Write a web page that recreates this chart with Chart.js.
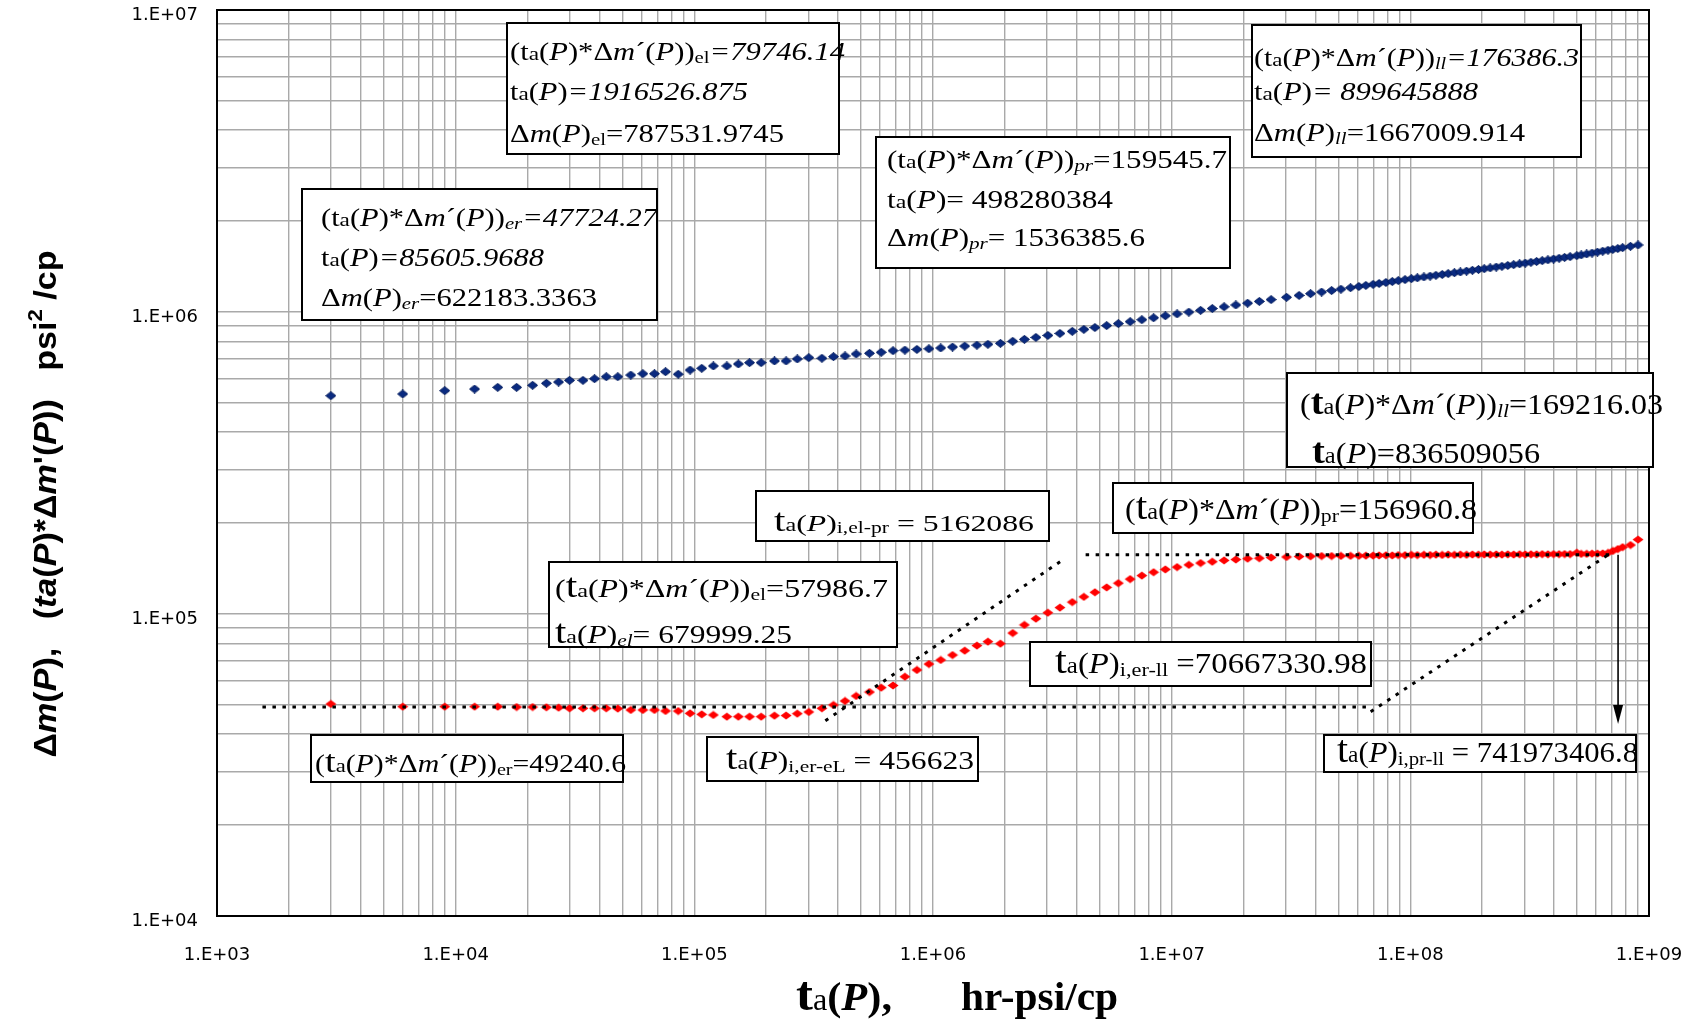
<!DOCTYPE html>
<html>
<head>
<meta charset="utf-8">
<script src="https://cdn.jsdelivr.net/npm/chart.js@4.4.1/dist/chart.umd.min.js"></script>
<style>
  html, body { margin: 0; padding: 0; background: #ffffff; }
  #wrap { width: 1694px; height: 1020px; position: relative; }
  canvas { display: block; }
</style>
</head>
<body>
<div id="wrap"><canvas id="c" width="1694" height="1020"></canvas></div>
<script>
// ---- values quoted in the annotation boxes ----
const ER_T = 85605.9688, ER_DM = 622183.3363, ER_D = 47724.27;
const EL_T = 1916526.875, EL_DM = 787531.9745, EL_D = 79746.14;
const PR_T = 498280384, PR_DM = 1536385.6, PR_D = 159545.7;
const LL_T = 899645888, LL_DM = 1667009.914, LL_D = 176386.3;
const LL2_T = 836509056, LL2_D = 169216.03;
const EL2_T = 679999.25, EL2_D = 57986.7;
const ER_LEVEL = 49240.6, PR_LEVEL = 156960.8;
const T_ER_EL = 456623, T_EL_PR = 5162086, T_ER_LL = 70667330.98, T_PR_LL = 741973406.8;

// ---- pseudo-time ta(P), hr-psi/cp ----
const taP = [
  3000, 6000, 9000, 12000, 15000, 18000, 21000, 24000, 27000, 30000,
  34140, 38190, 42750, 47790, 54150, 60850, 68060, 75730, ER_T, 96000,
  107400, 120100, 136800, 152900, 170300, 190500, 216700, 242400, 270000, 301700,
  342300, 382800, 428000, 476400, 541700, 606700, EL2_T, 762500, 856300, 961200,
  1077000, 1207000, 1358000, 1527000, 1698000, EL_T, 2158000, 2415000, 2698000, 3029000,
  3401000, 3833000, 4287000, 4768000, 5340000, 5980000, 6700000, 7500000, 8400000, 9410000,
  10540000, 11800000, 13220000, 14800000, 16580000, 18570000, 20800000, 23300000, 26100000, 30280000,
  34200000, 38180000, 42470000, 46770000, 51170000, 56150000, 60840000, 65110000, 69830000, 74000000,
  79000000, 84000000, 89000000, 95000000, 101000000, 107000000, 114000000, 121000000, 128000000, 136000000,
  144000000, 153000000, 162000000, 172000000, 182000000, 193000000, 204000000, 216000000, 229000000, 242000000,
  256000000, 271000000, 287000000, 303000000, 320000000, 338000000, 357000000, 377000000, 398000000, 420000000,
  443000000, 467000000, PR_T, 520000000, 548000000, 577000000, 608000000, 640000000, 673000000, 705000000,
  740000000, 775000000, LL2_T, LL_T
];

// ---- pseudo-pressure drop, Δm(P), psi²/cp ----
const deltaM = [
  528300, 535200, 548900, 555900, 563100, 563100, 571800, 580600, 586400, 593900,
  593900, 601300, 610500, 610500, 618400, 624700, 624700, 634300, ER_DM, 642600,
  651000, 662600, 662600, 672700, 679500, 679500, 688300, 688300, 698900, 705900,
  703000, 711400, 715000, 726100, 729800, 735400, 744500, 748100, 751800, 755400,
  760300, 765600, 771100, 776600, 781700, EL_DM, 800000, 812000, 824000, 836500,
  849400, 863000, 876000, 888300, 901600, 915200, 929000, 943000, 957000, 971600,
  985600, 999100, 1012700, 1026600, 1040800, 1055100, 1069600, 1084200, 1099000, 1118800,
  1135000, 1150000, 1164500, 1177900, 1190400, 1203400, 1214800, 1224600, 1234800, 1243100,
  1252800, 1261800, 1270500, 1280400, 1289600, 1297600, 1306400, 1314900, 1323000, 1331600,
  1339900, 1348900, 1357000, 1365800, 1374300, 1382900, 1391200, 1399800, 1408900, 1417100,
  1425900, 1434800, 1443700, 1452100, 1461000, 1470000, 1479100, 1488300, 1497600, 1506600,
  1515900, 1525000, PR_DM, 1545600, 1556700, 1567800, 1579100, 1590400, 1601400, 1611700,
  1622500, 1633000, 1650400, LL_DM
];

// ---- derivative, ta(P)*Δm'(P) ----
const derivative = [
  50350, 49330, 49330, 49330, 49330, 49200, 49200, 49100, 48960, 48740,
  48740, 48740, 48740, 48620, 48100, 48100, 48100, 47740, ER_D, 46880,
  46540, 46300, 45710, 45710, 45710, 45710, 46060, 46100, 46770, 47370,
  48720, 49970, 51520, 53530, 55170, 57030, EL2_D, 62000, 65250, 68300,
  70430, 73150, 75620, 78600, 81000, EL_D, 86500, 92000, 96500, 101000,
  105000, 109500, 114000, 118000, 122500, 126500, 130500, 134000, 137500, 140500,
  143000, 145500, 147500, 149000, 150500, 151500, 152500, 153000, 153800, 154500,
  155000, 155300, 155600, 155600, 155700, 155800, 155900, 156000, 156100, 156300,
  156500, 156300, 156700, 156600, 157000, 156700, 157100, 156800, 157200, 156900,
  157300, 157000, 157300, 157100, 157400, 157200, 157500, 157300, 157500, 157300,
  157600, 157400, 157700, 157500, 157700, 157600, 157800, 157700, 157900, 157800,
  158000, 157900, PR_D, 158100, 158200, 158400, 158500, 158700, 159300, 161700,
  164000, 166500, LL2_D, LL_D
];

// ---- straight-line flow-regime fits (dotted) ----
const erFitX = [1550, 68200000],       erFitY = [ER_LEVEL, ER_LEVEL];
const elFitX = [354000, 3407000],      elFitY = [44330, 149000];
const prFitX = [4360000, 705000000],   prFitY = [PR_LEVEL, PR_LEVEL];
const llFitX = [68200000, 705000000],  llFitY = [47490, 160800];
const arrowX = [T_PR_LL, T_PR_LL],     arrowY = [PR_LEVEL, 43240];

// ---- axis ticks ----
const xTickValues = [1e3, 1e4, 1e5, 1e6, 1e7, 1e8, 1e9];
const xTickLabels = ['1.E+03', '1.E+04', '1.E+05', '1.E+06', '1.E+07', '1.E+08', '1.E+09'];
const yTickValues = [1e4, 1e5, 1e6, 1e7];
const yTickLabels = ['1.E+04', '1.E+05', '1.E+06', '1.E+07'];

function decadeGrid(majors) {
  const v = [];
  for (let i = 0; i < majors.length - 1; i++) for (let k = 1; k < 10; k++) v.push(k * majors[i]);
  v.push(majors[majors.length - 1]);
  return v;
}

function diamond(w, h, fill, stroke) {
  const c = document.createElement('canvas');
  c.width = w; c.height = h;
  const g = c.getContext('2d');
  g.beginPath();
  g.moveTo(w / 2, 0.5); g.lineTo(w - 0.5, h / 2); g.lineTo(w / 2, h - 0.5); g.lineTo(0.5, h / 2); g.closePath();
  g.fillStyle = fill; g.fill();
  if (stroke) { g.strokeStyle = stroke; g.lineWidth = 1; g.stroke(); }
  return c;
}
const redMark = diamond(12, 9, '#ff0000', null);
const blueMark = diamond(11, 9, '#0a2a80', '#001a5a');

const pts = (xs, ys) => xs.map((x, i) => ({ x: x, y: ys[i] }));

function fitSet(xs, ys) {
  return {
    data: pts(xs, ys), showLine: true, pointRadius: 0, pointHoverRadius: 0,
    borderColor: '#000', borderWidth: 3, borderDash: [3.5, 6.5], borderCapStyle: 'butt',
    fill: false, order: 0
  };
}

// ---- rich text helpers (Times-like labels with italics and subscripts) ----
const SERIF = '"Liberation Serif", "Times New Roman", serif';
function styleFont(st, size) {
  switch (st) {
    case 'i':  return { font: `italic ${size}px ${SERIF}`, dy: 0 };
    case 'a':  return { font: `${size * 0.76}px ${SERIF}`, dy: 0 };
    case 's':  return { font: `${size * 0.68}px ${SERIF}`, dy: size * 0.1 };
    case 'si': return { font: `italic ${size * 0.68}px ${SERIF}`, dy: size * 0.1 };
    case 'T':  return { font: `${size * 1.3}px ${SERIF}`, dy: 0 };
    case 'Tb': return { font: `bold ${size * 1.2}px ${SERIF}`, dy: 0 };
    case 'b':  return { font: `bold ${size}px ${SERIF}`, dy: 0 };
    case 'bi': return { font: `bold italic ${size}px ${SERIF}`, dy: 0 };
    default:   return { font: `${size}px ${SERIF}`, dy: 0 };
  }
}
function drawRuns(ctx, runs, x, y, size, targetW) {
  let total = 0;
  const parts = runs.map(([t, st]) => {
    const f = styleFont(st, size);
    ctx.font = f.font;
    const w = ctx.measureText(t).width;
    total += w;
    return { t, f, w };
  });
  const sx = targetW ? targetW / total : 1;
  ctx.save();
  ctx.translate(x, y);
  ctx.scale(sx, 1);
  ctx.fillStyle = '#000';
  ctx.textBaseline = 'alphabetic';
  ctx.textAlign = 'left';
  let cx = 0;
  for (const p of parts) { ctx.font = p.f.font; ctx.fillText(p.t, cx, p.f.dy); cx += p.w; }
  ctx.restore();
}

const tBig = (big) => big ? [['t', big]] : [['t', 'n']];
const derivRuns = (big) => [['(', 'n'], ...tBig(big), ['a', 'a'], ['(', 'n'], ['P', 'i'], [')*Δ', 'n'], ['m', 'i'], ['´(', 'n'], ['P', 'i'], ['))', 'n']];
const taRuns = (big) => [...tBig(big), ['a', 'a'], ['(', 'n'], ['P', 'i'], [')', 'n']];
const dmRuns = () => [['Δ', 'n'], ['m', 'i'], ['(', 'n'], ['P', 'i'], [')', 'n']];

const boxes = [
  { r: [507, 23, 332, 131], size: 25, lines: [
    { x: 510, y: 60, w: 335, runs: [...derivRuns(), ['el', 's'], ['=' + EL_D, 'i']] },
    { x: 510, y: 100, w: 238, runs: [...taRuns(), ['=' + EL_T, 'i']] },
    { x: 510, y: 142, w: 274, runs: [...dmRuns(), ['el', 's'], ['=' + EL_DM, 'n']] } ] },
  { r: [302, 189, 355, 131], size: 25, lines: [
    { x: 321, y: 226, w: 336, runs: [...derivRuns(), ['er', 'si'], ['=' + ER_D, 'i']] },
    { x: 321, y: 266, w: 223, runs: [...taRuns(), ['=' + ER_T, 'i']] },
    { x: 321, y: 306, w: 276, runs: [...dmRuns(), ['er', 'si'], ['=' + ER_DM, 'n']] } ] },
  { r: [876, 137, 354, 131], size: 25, lines: [
    { x: 887, y: 168, w: 340, runs: [...derivRuns(), ['pr', 'si'], ['=' + PR_D, 'n']] },
    { x: 887, y: 208, w: 226, runs: [...taRuns(), ['= ' + PR_T, 'n']] },
    { x: 887, y: 246, w: 258, runs: [...dmRuns(), ['pr', 'si'], ['= ' + PR_DM, 'n']] } ] },
  { r: [1252, 25, 329, 132], size: 25, lines: [
    { x: 1254, y: 66, w: 325, runs: [...derivRuns(), ['ll', 'si'], ['=' + LL_D, 'i']] },
    { x: 1254, y: 100, w: 224, runs: [...taRuns(), ['= ' + LL_T, 'i']] },
    { x: 1254, y: 141, w: 271, runs: [...dmRuns(), ['ll', 'si'], ['=' + LL_DM, 'n']] } ] },
  { r: [1287, 373, 366, 94], size: 29, lines: [
    { x: 1300, y: 414, w: 363, runs: [...derivRuns('Tb'), ['ll', 'si'], ['=' + LL2_D, 'n']] },
    { x: 1312, y: 463, w: 228, runs: [...taRuns('Tb'), ['=' + LL2_T, 'n']] } ] },
  { r: [1113, 483, 360, 50], size: 29, lines: [
    { x: 1125, y: 519, w: 352, runs: [...derivRuns('T'), ['pr', 's'], ['=' + PR_LEVEL, 'n']] } ] },
  { r: [756, 491, 293, 50], size: 24, lines: [
    { x: 774, y: 531, w: 260, runs: [...taRuns('T'), ['i,el-pr', 's'], [' = ' + T_EL_PR, 'n']] } ] },
  { r: [549, 562, 348, 85], size: 26, lines: [
    { x: 555, y: 597, w: 333, runs: [...derivRuns('T'), ['el', 's'], ['=' + EL2_D, 'n']] },
    { x: 555, y: 643, w: 237, runs: [...taRuns('T'), ['el', 'si'], ['= ' + EL2_T, 'n']] } ] },
  { r: [311, 735, 312, 47], size: 25, lines: [
    { x: 315, y: 772, w: 311, runs: [...derivRuns('T'), ['er', 's'], ['=' + ER_LEVEL, 'n']] } ] },
  { r: [707, 737, 271, 44], size: 26, lines: [
    { x: 726, y: 769, w: 248, runs: [...taRuns('T'), ['i,er-eL', 's'], [' = ' + T_ER_EL, 'n']] } ] },
  { r: [1030, 642, 341, 44], size: 29, lines: [
    { x: 1055, y: 673, w: 312, runs: [...taRuns('T'), ['i,er-ll', 's'], [' =' + T_ER_LL, 'n']] } ] },
  { r: [1324, 735, 312, 37], size: 29, lines: [
    { x: 1337, y: 762, w: 301, runs: [...taRuns('T'), ['i,pr-ll', 's'], [' = ' + T_PR_LL, 'n']] } ] }
];

const TICK_FONT = '18px "DejaVu Sans", sans-serif';
const SANS = '"Liberation Sans", Arial, sans-serif';

const decor = {
  id: 'decor',
  afterDatasetsDraw(chart) {
    const ctx = chart.ctx, xs = chart.scales.x, ys = chart.scales.y;
    // vertical arrow at the pr-ll intersection
    const ax = xs.getPixelForValue(arrowX[0]);
    const y1 = ys.getPixelForValue(arrowY[0]);
    const y2 = ys.getPixelForValue(arrowY[1]);
    ctx.save();
    ctx.strokeStyle = '#000'; ctx.fillStyle = '#000'; ctx.lineWidth = 1.6;
    ctx.beginPath(); ctx.moveTo(ax, y1); ctx.lineTo(ax, y2 - 16); ctx.stroke();
    ctx.beginPath(); ctx.moveTo(ax - 5, y2 - 19); ctx.lineTo(ax + 5, y2 - 19); ctx.lineTo(ax, y2); ctx.closePath(); ctx.fill();
    ctx.restore();
  },
  afterDraw(chart) {
    const ctx = chart.ctx, a = chart.chartArea, xs = chart.scales.x, ys = chart.scales.y;
    ctx.save();
    // plot frame
    ctx.strokeStyle = '#000'; ctx.lineWidth = 2;
    ctx.strokeRect(a.left, a.top, a.right - a.left, a.bottom - a.top);

    // tick labels at the decades
    ctx.font = TICK_FONT; ctx.fillStyle = '#000';
    ctx.textAlign = 'center'; ctx.textBaseline = 'middle';
    xTickValues.forEach((v, i) => ctx.fillText(xTickLabels[i], xs.getPixelForValue(v), a.bottom + 39));
    ctx.textAlign = 'right';
    yTickValues.forEach((v, i) => ctx.fillText(yTickLabels[i], a.left - 19, ys.getPixelForValue(v) + 5));

    // annotation boxes
    for (const b of boxes) {
      ctx.fillStyle = '#fff';
      ctx.fillRect(b.r[0], b.r[1], b.r[2], b.r[3]);
      ctx.strokeStyle = '#000'; ctx.lineWidth = 2;
      ctx.strokeRect(b.r[0], b.r[1], b.r[2], b.r[3]);
      for (const ln of b.lines) drawRuns(ctx, ln.runs, ln.x, ln.y, b.size, ln.w);
    }

    // x axis title
    drawRuns(ctx, [['t', 'Tb'], ['a', 'a'], ['(', 'b'], ['P', 'bi'], [')', 'b'], [',', 'b']], 796, 1010, 41, 96);
    drawRuns(ctx, [['hr-psi/cp', 'b']], 961, 1010, 41, 157);

    // y axis title (rotated)
    const yRuns = [
      ['Δ', 'b'], ['m', 'bi'], ['(', 'b'], ['P', 'bi'], ['),   (', 'b'], ['ta', 'bi'], ['(', 'b'], ['P', 'bi'],
      [')*Δ', 'b'], ['m', 'bi'], ["'(", 'b'], ['P', 'bi'], ['))   psi', 'b'], ['2', 'sup'], [' /cp', 'b']
    ];
    const fs = 31;
    const fontOf = (st) => st === 'bi' ? `bold italic ${fs}px ${SANS}` : st === 'sup' ? `bold ${fs * 0.65}px ${SANS}` : `bold ${fs}px ${SANS}`;
    let total = 0;
    const parts = yRuns.map(([t, st]) => { ctx.font = fontOf(st); const w = ctx.measureText(t).width; total += w; return { t, st, w }; });
    const L = 507, sx = L / total;
    ctx.translate(56, 504);
    ctx.rotate(-Math.PI / 2);
    ctx.scale(sx, 1);
    ctx.fillStyle = '#000'; ctx.textBaseline = 'alphabetic'; ctx.textAlign = 'left';
    let cx = -total / 2;
    for (const p of parts) {
      ctx.font = fontOf(p.st);
      ctx.fillText(p.t, cx, p.st === 'sup' ? -fs * 0.45 : 0);
      cx += p.w;
    }
    ctx.restore();
  }
};

const gridColor = '#a9a9a9';

new Chart(document.getElementById('c'), {
  type: 'scatter',
  data: {
    datasets: [
      fitSet(erFitX, erFitY),
      fitSet(elFitX, elFitY),
      fitSet(prFitX, prFitY),
      fitSet(llFitX, llFitY),
      { label: 'ta(P)*Δm\'(P)', data: pts(taP, derivative), pointStyle: redMark, showLine: false, order: 1 },
      { label: 'Δm(P)', data: pts(taP, deltaM), pointStyle: blueMark, showLine: false, order: 2 }
    ]
  },
  options: {
    responsive: false,
    animation: false,
    devicePixelRatio: 1,
    layout: { padding: { top: 10, right: 45, left: 0, bottom: 0 } },
    plugins: { legend: { display: false }, tooltip: { enabled: false } },
    events: [],
    scales: {
      x: {
        type: 'logarithmic', position: 'bottom', min: xTickValues[0], max: xTickValues[xTickValues.length - 1],
        afterBuildTicks: (s) => { s.ticks = decadeGrid(xTickValues).map(v => ({ value: v })); },
        afterFit: (s) => { s.height = 104; },
        grid: { color: gridColor, lineWidth: 1.4, drawTicks: false },
        border: { display: false },
        ticks: { display: false }
      },
      y: {
        type: 'logarithmic', position: 'left', min: yTickValues[0], max: yTickValues[yTickValues.length - 1],
        afterBuildTicks: (s) => { s.ticks = decadeGrid(yTickValues).map(v => ({ value: v })); },
        afterFit: (s) => { s.width = 217; },
        grid: { color: gridColor, lineWidth: 1.4, drawTicks: false },
        border: { display: false },
        ticks: { display: false }
      }
    }
  },
  plugins: [decor]
});
</script>
</body>
</html>
